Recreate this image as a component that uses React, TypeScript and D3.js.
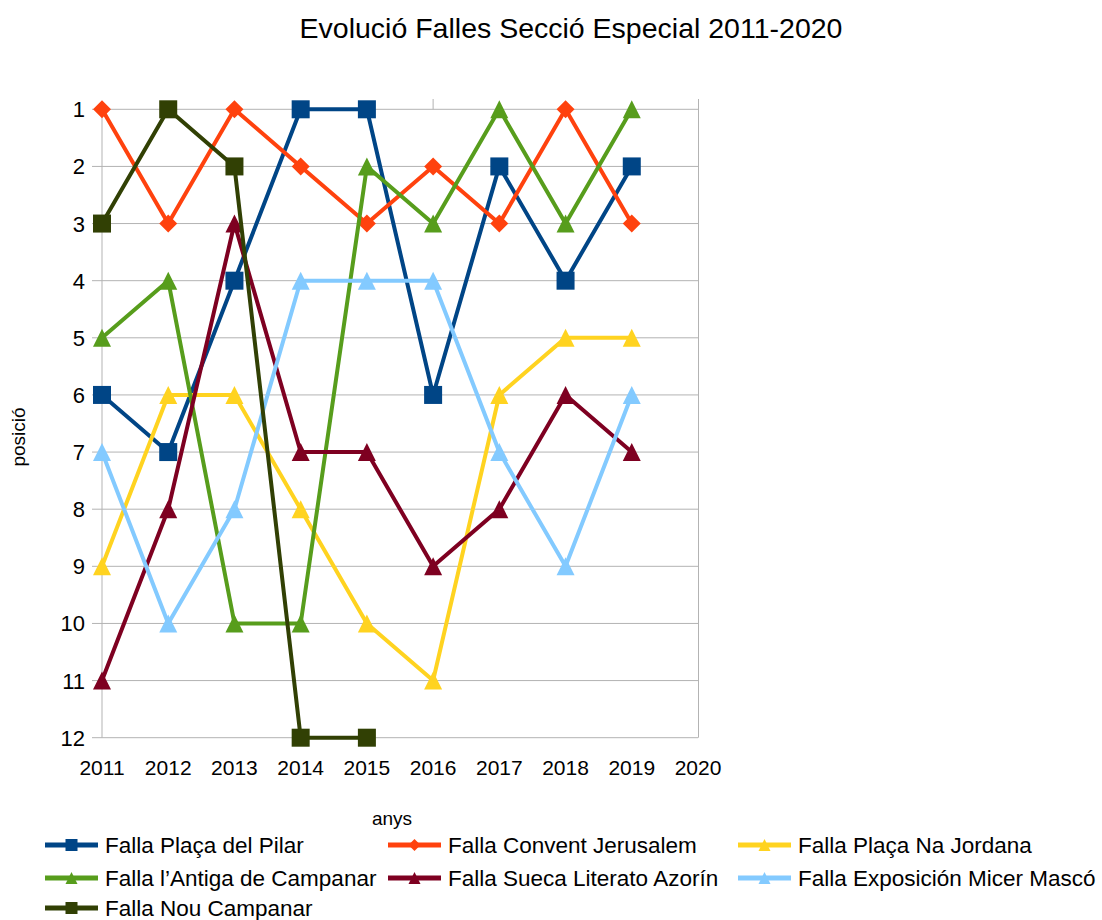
import React from "react";
import * as d3 from "d3";

const years = [2011, 2012, 2013, 2014, 2015, 2016, 2017, 2018, 2019, 2020];
const yTicks = [1, 2, 3, 4, 5, 6, 7, 8, 9, 10, 11, 12];

const seriesNames = [
  "Falla Plaça del Pilar",
  "Falla Convent Jerusalem",
  "Falla Plaça Na Jordana",
  "Falla l’Antiga de Campanar",
  "Falla Sueca Literato Azorín",
  "Falla Exposición Micer Mascó",
  "Falla Nou Campanar",
];

const pilar = [6, 7, 4, 1, 1, 6, 2, 4, 2, null];
const convent = [1, 3, 1, 2, 3, 2, 3, 1, 3, null];
const jordana = [9, 6, 6, 8, 10, 11, 6, 5, 5, null];
const antiga = [5, 4, 10, 10, 2, 3, 1, 3, 1, null];
const sueca = [11, 8, 3, 7, 7, 9, 8, 6, 7, null];
const exposicio = [7, 10, 8, 4, 4, 4, 7, 9, 6, null];
const nouCampanar = [3, 1, 2, 12, 12, null, null, null, null, null];

const seriesValues = [pilar, convent, jordana, antiga, sueca, exposicio, nouCampanar];
const colors = ["#004586", "#ff420e", "#ffd320", "#579d1c", "#7e0021", "#83caff", "#314004"];
const shapes = ["square", "diamond", "triangle", "triangle", "triangle", "triangle", "square"];

const FONT = "'Liberation Sans', Arial, sans-serif";

function Marker({ shape, x, y, r, color }: { shape: string; x: number; y: number; r: number; color: string }) {
  if (shape === "square") {
    return <rect x={x - r} y={y - r} width={2 * r} height={2 * r} fill={color} />;
  }
  if (shape === "diamond") {
    return <path d={`M${x},${y - r}L${x + r},${y}L${x},${y + r}L${x - r},${y}Z`} fill={color} />;
  }
  return <path d={`M${x},${y - r}L${x + r},${y + r}L${x - r},${y + r}Z`} fill={color} />;
}

export default function App() {
  const width = 1102;
  const height = 920;
  const x = d3.scaleLinear().domain([2011, 2020]).range([102, 698]);
  const y = d3.scaleLinear().domain([1, 12]).range([109.3, 737.7]);
  const plotTop = 99;

  const line = d3
    .line<number | null>()
    .defined((d) => d !== null)
    .x((_, i) => x(years[i]))
    .y((d) => y(d as number));

  const legendCols = [45, 388, 738];
  const legendRows = [845, 878, 908];

  return (
    <svg
      width={width}
      height={height}
      style={{ position: "absolute", left: 0, top: 0, background: "#fff" }}
      fontFamily={FONT}
    >
      <rect x={0} y={0} width={width} height={height} fill="#fff" />
      <text x={571} y={38} fontSize={28.5} textAnchor="middle" fill="#000">
        Evolució Falles Secció Especial 2011-2020
      </text>

      {/* gridlines */}
      {yTicks.map((t) => (
        <line key={t} x1={92} x2={698} y1={y(t)} y2={y(t)} stroke="#b3b3b3" strokeWidth={1} />
      ))}
      <line x1={102} x2={102} y1={y(1)} y2={y(12)} stroke="#b3b3b3" strokeWidth={1} />
      <line x1={698.5} x2={698.5} y1={plotTop} y2={y(12)} stroke="#b3b3b3" strokeWidth={1} />
      <line x1={x(2016)} x2={x(2016)} y1={plotTop} y2={y(1)} stroke="#b3b3b3" strokeWidth={1} />

      {/* y labels */}
      {yTicks.map((t) => (
        <text key={t} x={85} y={y(t) + 8} fontSize={22} textAnchor="end" fill="#000">
          {t}
        </text>
      ))}
      {/* x labels */}
      {years.map((yr) => (
        <text key={yr} x={x(yr)} y={775} fontSize={21} textAnchor="middle" fill="#000">
          {yr}
        </text>
      ))}

      <text x={392} y={825} fontSize={19} textAnchor="middle" fill="#000">
        anys
      </text>
      <text transform="translate(25,437) rotate(-90)" fontSize={19} textAnchor="middle" fill="#000">
        posició
      </text>

      {/* series */}
      {seriesValues.map((vals, si) => (
        <g key={si}>
          <path d={line(vals) || ""} fill="none" stroke={colors[si]} strokeWidth={4} strokeLinejoin="round" />
          {vals.map((v, i) =>
            v === null ? null : (
              <Marker key={i} shape={shapes[si]} x={x(years[i])} y={y(v)} r={9} color={colors[si]} />
            )
          )}
        </g>
      ))}

      {/* legend */}
      {seriesNames.map((name, i) => {
        const cx = legendCols[i % 3];
        const cy = legendRows[Math.floor(i / 3)];
        return (
          <g key={name}>
            <line x1={cx} x2={cx + 53} y1={cy} y2={cy} stroke={colors[i]} strokeWidth={5} />
            <Marker shape={shapes[i]} x={cx + 26.5} y={cy} r={6} color={colors[i]} />
            <text x={cx + 60} y={cy + 8} fontSize={22.5} fill="#000">
              {name}
            </text>
          </g>
        );
      })}
    </svg>
  );
}
